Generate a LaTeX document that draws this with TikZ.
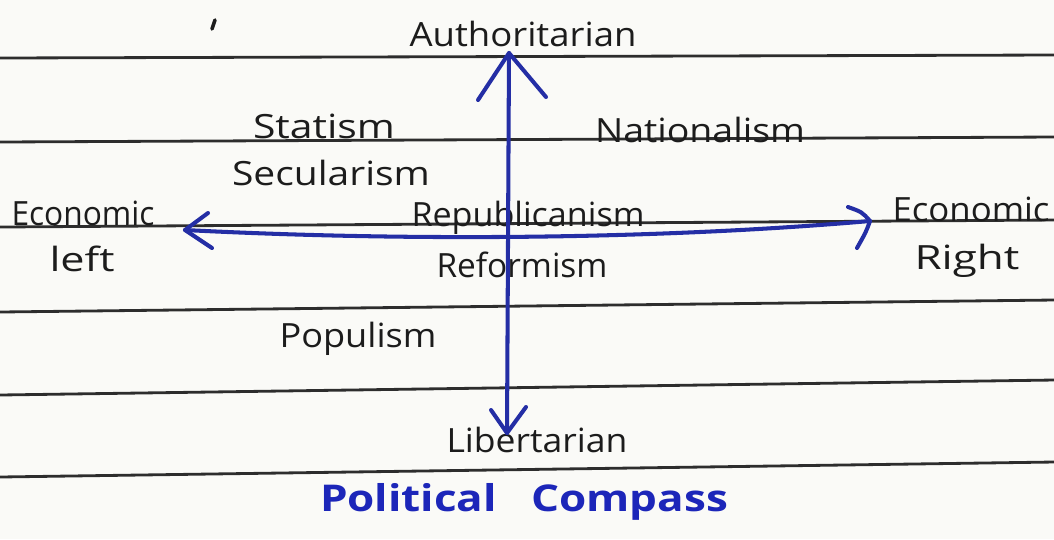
\documentclass[tikz,border=0pt]{standalone}
\usepackage{fontspec}
\setmainfont{Open Sans}
\usepackage{graphicx}
\definecolor{ink}{RGB}{36,46,165}
\definecolor{titleblue}{RGB}{28,38,185}
\definecolor{pen}{RGB}{28,28,28}
\definecolor{rulecol}{RGB}{45,45,45}
\definecolor{paper}{RGB}{250,250,247}
\newcommand\hw[2]{\resizebox{#1}{\height}{#2}}
\begin{document}
\begin{tikzpicture}[x=0.02cm,y=-0.02cm,
  ruled/.style={rulecol, line width=1.6pt},
  axis/.style={ink, line width=2.3pt, line cap=round, line join=round},
  lbl/.style={inner sep=0pt, text=pen, font=\fontsize{19}{22}\selectfont}]
\fill[paper] (0,0) rectangle (1054,539);
\useasboundingbox (0,0) rectangle (1054,539);
% ruled paper lines
\draw[ruled] (0,58) -- (1054,55);
\draw[ruled] (0,142) -- (1054,137);
\draw[ruled] (0,227) -- (1054,220);
\draw[ruled] (0,312) -- (1054,300);
\draw[ruled] (0,395) -- (1054,380);
\draw[ruled] (0,477) -- (1054,462);
% stray pen mark
\draw[pen, line width=2pt, line cap=round] (215,20) -- (212,29);
% labels
\node[lbl] (auth) at (523,34) {\hw{4.54cm}{Authoritarian}};
\node[lbl] (stat) at (324,126) {\hw{2.84cm}{Statism}};
\node[lbl] (nat) at (700,130) {\hw{4.2cm}{Nationalism}};
\node[lbl] (sec) at (331,173) {\hw{3.96cm}{Secularism}};
\node[lbl] (econL) at (83,213) {\hw{2.86cm}{Economic}};
\node[lbl] (left) at (82,259) {\hw{1.3cm}{left}};
\node[lbl] (rep) at (528,218) {\hw{4.66cm}{Republicanism}};
\node[lbl] (ref) at (522,265) {\hw{3.42cm}{Reformism}};
\node[lbl] (econR) at (971,209) {\hw{3.14cm}{Economic}};
\node[lbl] (right) at (967,261) {\hw{2.1cm}{Right}};
\node[lbl] (pop) at (358,339) {\hw{3.14cm}{Populism}};
\node[lbl] (lib) at (537,440) {\hw{3.62cm}{Libertarian}};
\node[lbl, text=titleblue, font=\fontsize{21}{24}\selectfont\bfseries] (title) at (524,502) {\hw{8.16cm}{Political\ \ \ Compass}};
% axes
\coordinate (N) at (509,53);
\coordinate (S) at (507,433);
\coordinate (W) at (185,230);
\coordinate (E) at (870,221);
\draw[axis] (N) -- (S);
\draw[axis] (W) .. controls (400,241) and (650,240) .. (E);
\draw[axis] (478,100) -- (N) -- (546,97);
\draw[axis] (491,410) -- (S) -- (526,407);
\draw[axis] (208,213) -- (W) -- (212,248);
\draw[axis] (848,207) .. controls (862,212) .. (E) .. controls (866,232) .. (857,248);
\end{tikzpicture}
\end{document}
